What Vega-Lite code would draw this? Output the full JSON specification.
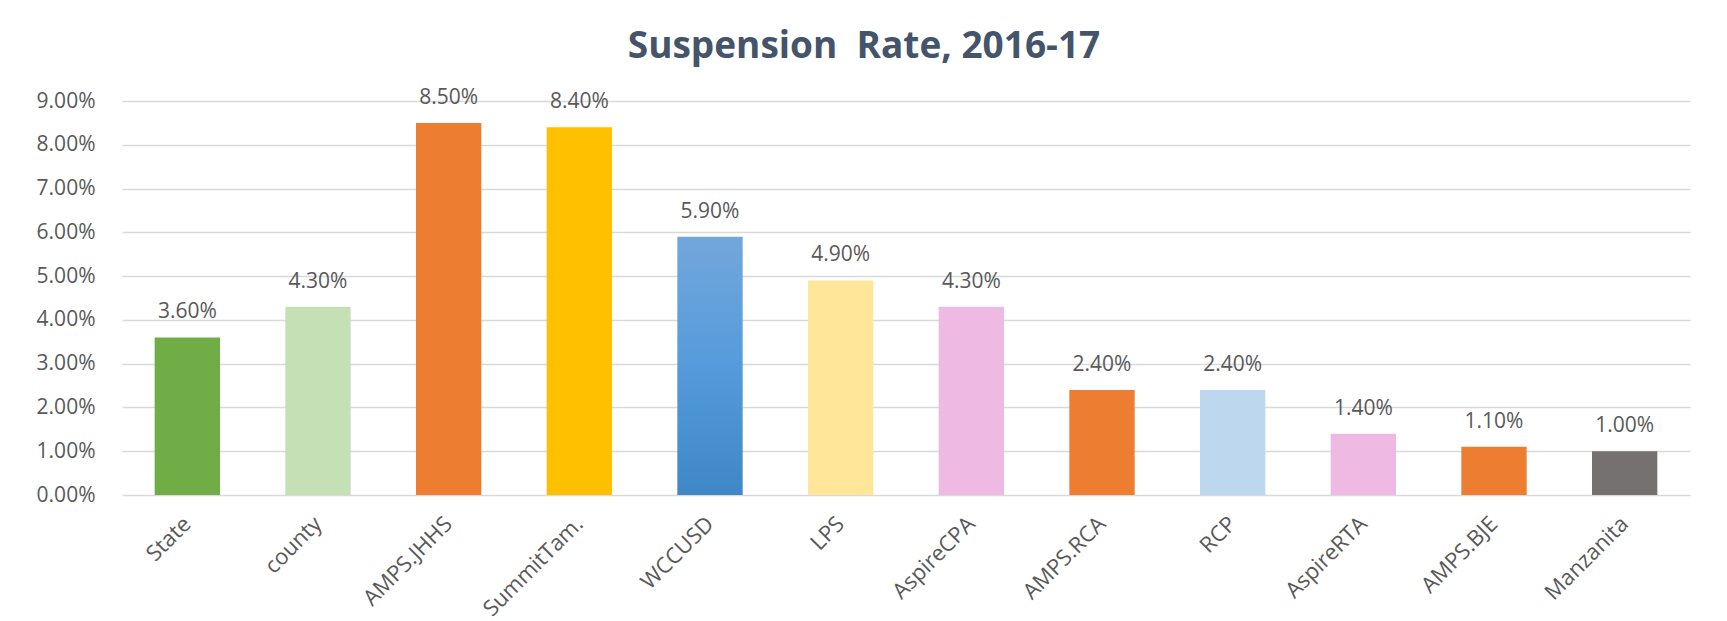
{
  "$schema": "https://vega.github.io/schema/vega-lite/v6.json",
  "width": 1568,
  "height": 394,
  "autosize": {"type": "none"},
  "padding": {"left": 122, "top": 101, "right": 37, "bottom": 126},
  "background": "white",
  "config": {
    "font": "Open Sans",
    "view": {"stroke": null}
  },
  "title": {
    "text": "Suspension\u00a0 Rate, 2016-17",
    "font": "Open Sans",
    "fontSize": 37,
    "fontWeight": "bold",
    "color": "#44546A",
    "anchor": "middle",
    "baseline": "alphabetic",
    "offset": -8,
    "dx": -42
  },
  "data": {
    "values": [
      {"name": "State", "rate": 0.036},
      {"name": "county", "rate": 0.043},
      {"name": "AMPS.JHHS", "rate": 0.085},
      {"name": "SummitTam.", "rate": 0.084},
      {"name": "WCCUSD", "rate": 0.059},
      {"name": "LPS", "rate": 0.049},
      {"name": "AspireCPA", "rate": 0.043},
      {"name": "AMPS.RCA", "rate": 0.024},
      {"name": "RCP", "rate": 0.024},
      {"name": "AspireRTA", "rate": 0.014},
      {"name": "AMPS.BJE", "rate": 0.011},
      {"name": "Manzanita", "rate": 0.01}
    ]
  },
  "encoding": {
    "x": {
      "field": "name",
      "type": "nominal",
      "sort": null,
      "scale": {"paddingInner": 0.5, "paddingOuter": 0.25},
      "axis": {
        "title": null,
        "labelAngle": -45,
        "labelAlign": "right",
        "labelBaseline": "middle",
        "labelFontSize": 22,
        "labelColor": "#595959",
        "labelPadding": 25,
        "ticks": false,
        "domain": false,
        "grid": false
      }
    },
    "y": {
      "field": "rate",
      "type": "quantitative",
      "scale": {"domain": [0, 0.09], "nice": false},
      "axis": {
        "title": null,
        "values": [0, 0.01, 0.02, 0.03, 0.04, 0.05, 0.06, 0.07, 0.08, 0.09],
        "format": ".2%",
        "labelFontSize": 21,
        "labelColor": "#595959",
        "labelPadding": 27,
        "ticks": false,
        "domain": false,
        "gridColor": "#D9D9D9",
        "gridWidth": 1.5
      }
    }
  },
  "layer": [
    {
      "mark": {"type": "bar"},
      "encoding": {
        "color": {
          "condition": {
            "test": "datum.name === 'WCCUSD'",
            "value": {
              "gradient": "linear",
              "x1": 0, "y1": 0, "x2": 0, "y2": 1,
              "stops": [
                {"offset": 0, "color": "#72A7DB"},
                {"offset": 0.5, "color": "#559BDB"},
                {"offset": 1, "color": "#3F87C7"}
              ]
            }
          },
          "field": "name",
          "type": "nominal",
          "legend": null,
          "scale": {
            "domain": ["State", "county", "AMPS.JHHS", "SummitTam.", "WCCUSD", "LPS", "AspireCPA", "AMPS.RCA", "RCP", "AspireRTA", "AMPS.BJE", "Manzanita"],
            "range": ["#70AD47", "#C5E0B4", "#ED7D31", "#FFC000", "#5B9BD5", "#FFE699", "#EEBAE3", "#ED7D31", "#BDD7EE", "#EEBAE3", "#ED7D31", "#767171"]
          }
        }
      }
    },
    {
      "mark": {
        "type": "text",
        "baseline": "alphabetic",
        "dy": -19,
        "fontSize": 21,
        "color": "#595959"
      },
      "encoding": {
        "text": {"field": "rate", "type": "quantitative", "format": ".2%"}
      }
    }
  ]
}
